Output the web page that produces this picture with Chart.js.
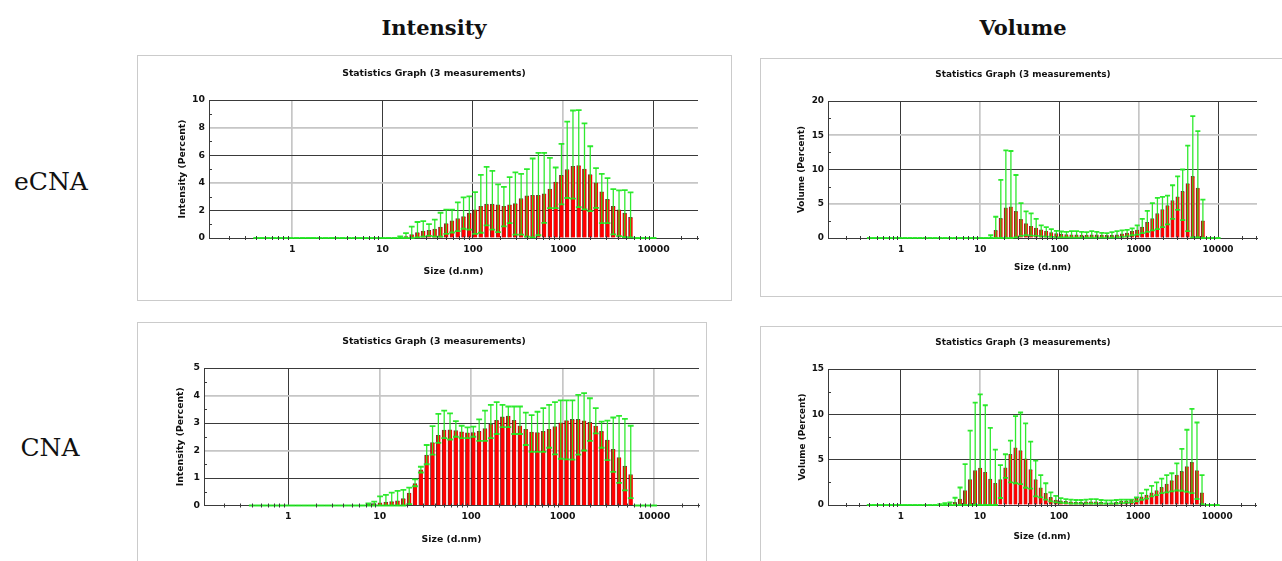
<!DOCTYPE html>
<html>
<head>
<meta charset="utf-8">
<script src="https://cdn.jsdelivr.net/npm/chart.js@4.4.1/dist/chart.umd.min.js"></script>
<style>
  body { margin: 0; width: 1282px; height: 561px; overflow: hidden; position: relative; background: #fff; }
  .hdr { position: absolute; transform: translate(-50%, -50%); font-family: 'DejaVu Serif', serif; font-weight: bold; font-size: 21px; color: #111; white-space: nowrap; }
  .row { position: absolute; transform: translate(-50%, -50%); font-family: 'DejaVu Serif', serif; font-size: 25px; color: #111; white-space: nowrap; }
  .ttl { position: absolute; transform: translate(-50%, -50%); font-family: 'DejaVu Sans', sans-serif; font-weight: bold; color: #111; white-space: nowrap; z-index: 2; }
  .box { position: absolute; border: 1px solid #cbcbcb; box-sizing: border-box; }
  canvas { position: absolute; }
</style>
</head>
<body>
<div class="hdr" style="left:434px; top:27px">Intensity</div>
<div class="hdr" style="left:1023px; top:27px">Volume</div>
<div class="row" style="left:51px; top:181px">eCNA</div>
<div class="row" style="left:50px; top:447px">CNA</div>
<div class="box" style="left:137px; top:55px; width:595px; height:246px"></div>
<div class="box" style="left:760px; top:58px; width:530px; height:239px"></div>
<div class="box" style="left:137px; top:322px; width:570px; height:250px"></div>
<div class="box" style="left:760px; top:326px; width:530px; height:250px"></div>
<script>
// Malvern size classes (d.nm), 70 bins
const sizes = [
  0.4000, 0.4632, 0.5365, 0.6213, 0.7195, 0.8332, 0.9649, 1.117, 1.294, 1.499,
  1.736, 2.010, 2.328, 2.696, 3.122, 3.615, 4.187, 4.849, 5.615, 6.503,
  7.531, 8.721, 10.10, 11.70, 13.54, 15.69, 18.17, 21.04, 24.36, 28.21,
  32.67, 37.84, 43.82, 50.75, 58.77, 68.06, 78.82, 91.28, 105.7, 122.4,
  141.8, 164.2, 190.1, 220.2, 255.0, 295.3, 342.0, 396.1, 458.7, 531.2,
  615.1, 712.4, 825.0, 955.4, 1106, 1281, 1484, 1718, 1990, 2305,
  2669, 3091, 3580, 4145, 4801, 5560, 6439, 7456, 8635, 10000
];
const xMajorTicks = [1, 10, 100, 1000, 10000];

// eCNA - Intensity (first bin index 25)
const start1 = 25;
const mean1 = [0.03, 0.1, 0.25, 0.4, 0.5, 0.55, 0.65, 0.8, 1.05, 1.25,
  1.4, 1.55, 1.8, 2.05, 2.3, 2.45, 2.45, 2.4, 2.3, 2.4,
  2.5, 2.85, 3.05, 3.1, 3.1, 3.2, 3.55, 4.05, 4.55, 4.95,
  5.2, 5.25, 5.0, 4.6, 4.0, 3.35, 2.8, 2.3, 2.05, 1.8, 1.5];
const upper1 = [0.12, 0.36, 0.82, 1.16, 1.23, 1.01, 1.33, 1.83, 2.05, 2.05,
  2.58, 2.94, 3.01, 3.33, 4.58, 5.16, 4.87, 3.88, 3.71, 4.41,
  4.75, 4.65, 4.99, 5.76, 6.17, 6.17, 5.81, 5.11, 6.82, 8.43,
  9.24, 9.27, 8.31, 6.65, 5.06, 4.65, 4.34, 3.54, 3.45, 3.47, 3.3];
const lower1 = [0, 0, 0, 0.05, 0.1, 0.15, 0.1, 0.1, 0.3, 0.4,
  0.5, 0.67, 0.6, 0.3, 0.38, 0.92, 0.6, 0.43, 0.84, 1.08,
  0.24, 0.24, 0.1, 0.05, 0.2, 1.1, 2.17, 2.17, 2.43, 2.9,
  2.85, 2.24, 2.07, 1.95, 2.19, 1.08, 1.08, 0.26, 0.14, 0.07, 0.05];

// eCNA - Volume (first bin index 24)
const start2 = 24;
const mean2 = [0.05, 1.12, 2.88, 4.39, 4.54, 3.9, 2.73, 2.1, 1.7, 1.46,
  1.2, 1.0, 0.78, 0.63, 0.55, 0.5, 0.48, 0.45, 0.42, 0.42,
  0.45, 0.45, 0.42, 0.4, 0.4, 0.45, 0.6, 0.73, 0.98, 1.15,
  1.6, 2.3, 2.85, 3.55, 4.15, 4.75, 5.45, 6.0, 6.8, 7.95,
  9.0, 7.3, 2.5];
const upper2 = [0.4, 3.1, 8.5, 12.8, 12.7, 9.2, 5.1, 3.9, 3.6, 2.8,
  1.85, 1.6, 1.3, 1.05, 0.95, 0.9, 1.0, 1.0, 0.9, 0.85,
  1.0, 0.9, 0.75, 0.7, 0.85, 1.0, 1.1, 1.2, 1.4, 1.85,
  2.8, 3.95, 5.1, 5.85, 6.0, 6.2, 7.7, 9.0, 10.0, 13.5,
  17.8, 15.6, 5.6];
const lower2 = [0, 0, 0, 0, 0, 0.1, 0.3, 0.4, 0.35, 0.3,
  0.25, 0.2, 0.15, 0.1, 0.1, 0.1, 0.05, 0.05, 0.05, 0.05,
  0.05, 0.05, 0.05, 0.05, 0.05, 0.1, 0.15, 0.25, 0.4, 0.5,
  0.7, 0.9, 1.1, 1.3, 1.6, 2.0, 2.8, 4.1, 2.6, 1.0,
  0.1, 0.1, 0];

// CNA - Intensity (first bin index 20)
const start3 = 20;
const mean3 = [0.04, 0.07, 0.1, 0.12, 0.14, 0.17, 0.25, 0.45, 0.8, 1.3,
  1.83, 2.29, 2.55, 2.74, 2.75, 2.72, 2.68, 2.64, 2.65, 2.7,
  2.8, 2.95, 3.1, 3.22, 3.25, 3.1, 2.9, 2.77, 2.67, 2.65,
  2.7, 2.77, 2.87, 3.01, 3.09, 3.13, 3.13, 3.08, 3.02, 2.89,
  2.7, 2.38, 2.04, 1.74, 1.43, 1.12];
const upper3 = [0.08, 0.14, 0.33, 0.39, 0.47, 0.53, 0.57, 0.65, 0.95, 1.41,
  2.2, 2.89, 3.33, 3.45, 3.35, 3.07, 2.9, 2.84, 2.87, 3.13,
  3.45, 3.66, 3.76, 3.66, 3.6, 3.6, 3.6, 3.38, 3.29, 3.41,
  3.54, 3.66, 3.76, 3.82, 3.82, 3.82, 4.02, 4.09, 3.9, 3.54,
  3.05, 3.09, 3.2, 3.26, 3.15, 2.9];
const lower3 = [0, 0, 0, 0, 0, 0, 0, 0.05, 0.7, 1.2,
  1.5, 1.85, 2.28, 2.45, 2.4, 2.5, 2.45, 2.45, 2.5, 2.35,
  2.35, 2.45, 2.6, 2.85, 2.85, 2.6, 2.6, 2.2, 1.95, 1.95,
  1.95, 2.1, 1.86, 1.7, 1.68, 1.67, 1.85, 2.0, 2.35, 2.62,
  2.1, 1.65, 1.22, 0.82, 0.55, 0.27];

// CNA - Volume (first bin index 14)
const start4 = 14;
const mean4 = [0.02, 0.05, 0.15, 0.3, 0.66, 1.6, 2.8, 3.8, 4.07, 3.6,
  2.85, 2.4, 2.8, 4.1, 5.6, 6.3, 6.0, 5.1, 3.9, 2.8,
  1.9, 1.3, 0.85, 0.55, 0.45, 0.4, 0.35, 0.3, 0.3, 0.35,
  0.35, 0.35, 0.3, 0.25, 0.25, 0.3, 0.4, 0.45, 0.6, 0.75,
  0.9, 1.1, 1.35, 1.6, 1.95, 2.3, 2.7, 3.3, 3.7, 4.25,
  4.7, 3.8, 1.35];
const upper4 = [0.1, 0.2, 0.3, 0.8, 1.93, 4.5, 8.2, 11.3, 12.2, 11.0,
  8.5, 6.1, 4.4, 5.6, 7.1, 9.8, 10.2, 9.0, 7.0, 4.9,
  3.3, 2.4, 1.4, 1.0, 0.75, 0.65, 0.6, 0.55, 0.55, 0.6,
  0.65, 0.65, 0.55, 0.5, 0.5, 0.55, 0.6, 0.6, 0.6, 0.84,
  1.3, 1.7, 2.1, 2.5, 2.9, 3.3, 3.5, 4.6, 6.2, 8.3,
  10.6, 9.1, 3.3];
const lower4 = [0, 0, 0, 0, 0, 0, 0, 0, 0, 0,
  0, 0, 0.77, 3.0, 2.5, 2.4, 2.3, 1.9, 1.8, 0.95,
  0.84, 0.6, 0.4, 0.3, 0.25, 0.2, 0.15, 0.15, 0.15, 0.15,
  0.15, 0.15, 0.15, 0.15, 0.15, 0.15, 0.2, 0.25, 0.3, 0.4,
  0.58, 0.7, 0.95, 1.1, 1.3, 1.4, 1.5, 1.6, 1.57, 1.45,
  1.3, 0.66, 0.1];

Chart.defaults.font.family = "'DejaVu Sans', sans-serif";
Chart.defaults.color = '#111';

const X_MIN = 0.12, X_MAX = 31000;
const full = (start, arr) => sizes.map((_, i) => arr[i - start] ?? 0);

// minor x ticks: 2..9 in every decade, kept inside the axis range
const xMinorTicks = [];
[0.1, 1, 10, 100, 1000, 10000].forEach(d => {
  for (let k = 2; k <= 9; k++) {
    const v = +(d * k).toPrecision(3);
    if (v > X_MIN && v < X_MAX) xMinorTicks.push(v);
  }
});
const xAllTicks = xMinorTicks.concat(xMajorTicks).sort((a, b) => a - b);

const panels = [
  { canvas: {x: 138, y: 56, w: 592, h: 242}, plot: {l: 209, t: 100, r: 698, b: 238},
    titleX: 434, titleY: 72, xTitleY: 272, yTitleX: 183, font: 9.3,
    yMax: 10, yMajor: 2, yMinor: 1, yTitle: 'Intensity (Percent)',
    lightX: [1, 1000], lightY: [4, 8],
    start: start1, mean: mean1, hi: upper1, lo: lower1 },
  { canvas: {x: 761, y: 59, w: 524, h: 236}, plot: {l: 828, t: 101, r: 1257, b: 238},
    titleX: 1023, titleY: 74, xTitleY: 268, yTitleX: 802, font: 8.9,
    yMax: 20, yMajor: 5, yMinor: 2.5, yTitle: 'Volume (Percent)',
    lightX: [10, 1000], lightY: [5, 15],
    start: start2, mean: mean2, hi: upper2, lo: lower2 },
  { canvas: {x: 138, y: 323, w: 592, h: 236}, plot: {l: 204, t: 368, r: 699, b: 505.5},
    titleX: 434, titleY: 340, xTitleY: 540, yTitleX: 181, font: 9.3,
    yMax: 5, yMajor: 1, yMinor: 0.5, yTitle: 'Intensity (Percent)',
    lightX: [10, 100, 1000, 10000], lightY: [2, 4],
    start: start3, mean: mean3, hi: upper3, lo: lower3 },
  { canvas: {x: 761, y: 327, w: 524, h: 232}, plot: {l: 828, t: 369, r: 1256, b: 505},
    titleX: 1023, titleY: 341.7, xTitleY: 536.7, yTitleX: 803, font: 8.9,
    yMax: 15, yMajor: 5, yMinor: 2.5, yTitle: 'Volume (Percent)',
    lightX: [10, 1000], lightY: [],
    start: start4, mean: mean4, hi: upper4, lo: lower4 }
];

const DARK = '#3a3a3a', LIGHT = '#c6c6c6', GREEN = 'rgba(30, 232, 30, 0.92)';

// error bars (min..max) with caps, plus the small minor tick marks
const errorBars = {
  id: 'errorBars',
  afterDatasetsDraw(chart, args, opts) {
    const {ctx, scales: {x, y}} = chart;
    ctx.save();
    ctx.strokeStyle = GREEN;
    sizes.forEach((s, i) => {
      const px = x.getPixelForValue(s);
      const a = x.getPixelForValue(sizes[Math.max(i - 1, 0)]);
      const b = x.getPixelForValue(sizes[Math.min(i + 1, sizes.length - 1)]);
      const half = (b - a) / (i === 0 || i === sizes.length - 1 ? 2 : 4);
      const yl = y.getPixelForValue(opts.lo[i]);
      const yh = y.getPixelForValue(opts.hi[i]);
      ctx.lineWidth = 1.3;
      ctx.beginPath();
      ctx.moveTo(px, yl); ctx.lineTo(px, yh);
      ctx.stroke();
      ctx.lineWidth = 1.8;
      ctx.beginPath();
      ctx.moveTo(px - half, yh); ctx.lineTo(px + half, yh);
      ctx.moveTo(px - half, yl); ctx.lineTo(px + half, yl);
      ctx.stroke();
    });
    ctx.restore();
  },
  afterDraw(chart, args, opts) {
    const {ctx, chartArea: area, scales: {x, y}} = chart;
    ctx.save();
    ctx.strokeStyle = DARK;
    ctx.lineWidth = 1;
    ctx.beginPath();
    xMinorTicks.forEach(v => {
      const px = Math.round(x.getPixelForValue(v)) + 0.5;
      ctx.moveTo(px, area.bottom - 2); ctx.lineTo(px, area.bottom + 2);
    });
    opts.yMinorVals.forEach(v => {
      const py = Math.round(y.getPixelForValue(v)) + 0.5;
      ctx.moveTo(area.left, py); ctx.lineTo(area.left + 3, py);
    });
    ctx.stroke();
    ctx.restore();
  }
};

function makeChart(p) {
  const cv = document.createElement('canvas');
  cv.width = p.canvas.w; cv.height = p.canvas.h;
  cv.style.left = p.canvas.x + 'px'; cv.style.top = p.canvas.y + 'px';
  document.body.appendChild(cv);

  const ttl = document.createElement('div');
  ttl.className = 'ttl';
  ttl.textContent = 'Statistics Graph (3 measurements)';
  ttl.style.left = p.titleX + 'px'; ttl.style.top = p.titleY + 'px';
  ttl.style.fontSize = p.font + 'px';
  document.body.appendChild(ttl);

  const lh = p.font * 1.2;
  const yAxisW = p.plot.l - p.canvas.x;
  const xAxisH = p.canvas.y + p.canvas.h - p.plot.b;
  const padRight = p.canvas.x + p.canvas.w - p.plot.r;
  const padTop = p.plot.t - p.canvas.y;

  const mean = full(p.start, p.mean);
  const yTicks = [], yMinorVals = [];
  const isMajorY = v => Math.abs(v / p.yMajor - Math.round(v / p.yMajor)) < 1e-6;
  for (let v = 0; v <= p.yMax + 1e-9; v += p.yMinor) {
    yTicks.push(v);
    if (!isMajorY(v)) yMinorVals.push(v);
  }
  const font = {size: p.font, weight: 'bold'};

  new Chart(cv, {
    type: 'bar',
    data: {
      datasets: [{
        data: sizes.map((s, i) => ({x: s, y: mean[i]})),
        backgroundColor: '#ff0000',
        borderColor: 'rgba(55, 0, 0, 0.8)',
        borderWidth: {top: 0.8, left: 0.8, right: 0, bottom: 0},
        categoryPercentage: 1,
        barPercentage: 1
      }]
    },
    options: {
      responsive: false,
      animation: false,
      devicePixelRatio: 1,
      layout: {padding: {left: 0, right: padRight, top: padTop, bottom: 0}},
      plugins: {
        legend: {display: false},
        tooltip: {enabled: false},
        title: {display: false},
        errorBars: {lo: full(p.start, p.lo), hi: full(p.start, p.hi), yMinorVals: yMinorVals}
      },
      scales: {
        x: {
          type: 'logarithmic', min: X_MIN, max: X_MAX, offset: false,
          afterBuildTicks: s => { s.ticks = xAllTicks.map(v => ({value: v})); },
          afterFit: s => { s.height = xAxisH; },
          grid: {
            offset: false, drawTicks: false,
            color: c => xMajorTicks.includes(c.tick.value) ? (p.lightX.includes(c.tick.value) ? LIGHT : DARK) : 'transparent',
            lineWidth: c => p.lightX.includes(c.tick.value) ? 1.7 : 1
          },
          border: {display: true, color: DARK, width: 1},
          ticks: {
            autoSkip: false, maxRotation: 0, padding: 6, color: '#111', font: font,
            callback: v => xMajorTicks.includes(v) ? String(v) : ''
          },
          title: {
            display: true, text: 'Size (d.nm)', color: '#111', font: font,
            padding: {top: 0, bottom: p.canvas.y + p.canvas.h - p.xTitleY - lh / 2}
          }
        },
        y: {
          type: 'linear', min: 0, max: p.yMax,
          afterBuildTicks: s => { s.ticks = yTicks.map(v => ({value: v})); },
          afterFit: s => { s.width = yAxisW; },
          grid: {
            drawTicks: false,
            color: c => isMajorY(c.tick.value) ? (p.lightY.includes(c.tick.value) ? LIGHT : DARK) : 'transparent',
            lineWidth: c => p.lightY.includes(c.tick.value) ? 1.7 : 1
          },
          border: {display: true, color: DARK, width: 1},
          ticks: {
            padding: 4, color: '#111', font: font,
            callback: v => isMajorY(v) ? String(v) : ''
          },
          title: {
            display: true, text: p.yTitle, color: '#111', font: font,
            padding: {top: p.yTitleX - p.canvas.x - lh / 2, bottom: 0}
          }
        }
      }
    },
    plugins: [errorBars]
  });
}

panels.forEach(makeChart);
</script>
</body>
</html>
